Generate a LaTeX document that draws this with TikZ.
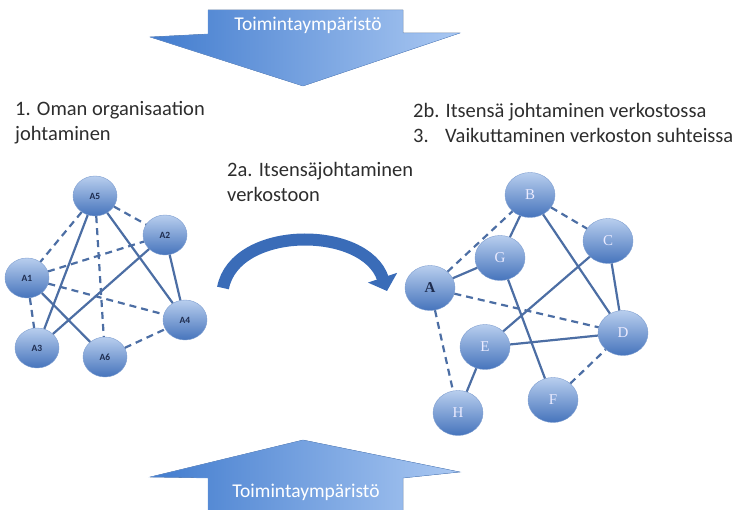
\documentclass[tikz,border=0pt]{standalone}
\usepackage{fontspec}
\setmainfont{Carlito}
\newfontfamily\letterfont{Liberation Serif}
\usetikzlibrary{shapes.geometric,arrows.meta}

\definecolor{ballTop}{RGB}{184,206,238}
\definecolor{ballBottom}{RGB}{70,116,188}
\definecolor{tieBlue}{RGB}{76,110,164}
\definecolor{bandBlue}{RGB}{58,108,184}
\definecolor{flowDark}{RGB}{66,124,206}
\definecolor{flowLight}{RGB}{170,200,242}
\definecolor{inkGray}{RGB}{45,45,45}
\definecolor{inkNavy}{RGB}{30,44,78}

\begin{document}
\begin{tikzpicture}[x=1pt,y=-1pt,
    ball/.style={ellipse,inner sep=0,top color=ballTop,bottom color=ballBottom,draw=ballBottom!70,line width=0.4},
    smallball/.style={ball,minimum width=44,minimum height=40,text=inkNavy,font=\fontsize{9.5}{10}\selectfont\bfseries},
    bigball/.style={ball,minimum width=50,minimum height=45,text=white!92!blue,font=\letterfont\fontsize{15}{16}\selectfont},
    tie/.style={draw=tieBlue,line width=2.2},
    looseTie/.style={tie,dash pattern=on 7pt off 5pt},
    caption/.style={inner sep=0,align=left,text=inkGray,font=\fontsize{20.5}{25}\selectfont},
    flow/.style={left color=flowDark,right color=flowLight,draw=flowDark!80,line width=0.4},
    flowtext/.style={inner sep=0,text=white,font=\fontsize{19.5}{20}\selectfont}]
    \useasboundingbox (0,0) rectangle (744,510);

    \fill[flow] (208,10) -- (403,10) -- (403,33) -- (460,33) -- (303,86) -- (150,37) -- (208,34) -- cycle;
    \node[flowtext] (envTop) at (308,25) {Toimintaympäristö};
    \fill[flow] (208,511) -- (208,478) -- (150,477) -- (303,440) -- (460,472) -- (403,478) -- (403,511) -- cycle;
    \node[flowtext] (envBottom) at (306,492) {Toimintaympäristö};

    \node[caption,anchor=west] (own) at (15,123) {1. Oman organisaation\\johtaminen};
    \node[caption,anchor=west] (self) at (227,182) {2a. Itsensäjohtaminen\\verkostoon};
    \node[caption,anchor=west] (net) at (413,123) {2b. Itsensä johtaminen verkostossa\\\makebox[32pt][l]{3.}Vaikuttaminen verkoston suhteissa};

    \draw[bandBlue,line width=12,-{Triangle[width=30,length=14]}] (223,288) .. controls (235,225) and (365,225) .. (387,291);

    \node[smallball] (o5) at (95,196) {A5};
    \node[smallball] (o2) at (165,235) {A2};
    \node[smallball] (o1) at (27,278) {A1};
    \node[smallball] (o4) at (185,320) {A4};
    \node[smallball] (o3) at (37,348) {A3};
    \node[smallball] (o6) at (105,357) {A6};

    \draw[tie] (o5) -- (o3) (o5) -- (o4) (o2) -- (o3) (o2) -- (o4) (o1) -- (o6);
    \draw[looseTie] (o5) -- (o1) (o5) -- (o2) (o1) -- (o2) (o5) -- (o6) (o1) -- (o4) (o1) -- (o3) (o6) -- (o4);

    \node[bigball] (vB) at (530,195) {B};
    \node[bigball] (vC) at (608,241) {C};
    \node[bigball] (vG) at (500,258) {G};
    \node[bigball,text=inkNavy,font=\letterfont\fontsize{15}{16}\selectfont\bfseries] (vA) at (430,288) {A};
    \node[bigball] (vD) at (623,333) {D};
    \node[bigball] (vE) at (485,347) {E};
    \node[bigball] (vH) at (458,413) {H};
    \node[bigball] (vF) at (553,400) {F};

    \draw[tie] (vB) -- (vG) (vA) -- (vG) (vB) -- (vD) (vC) -- (vD) (vC) -- (vE) (vE) -- (vD) (vG) -- (vF) (vE) -- (vH);
    \draw[looseTie] (vA) -- (vB) (vB) -- (vC) (vA) -- (vD) (vA) -- (vH) (vF) -- (vD);
\end{tikzpicture}
\end{document}
